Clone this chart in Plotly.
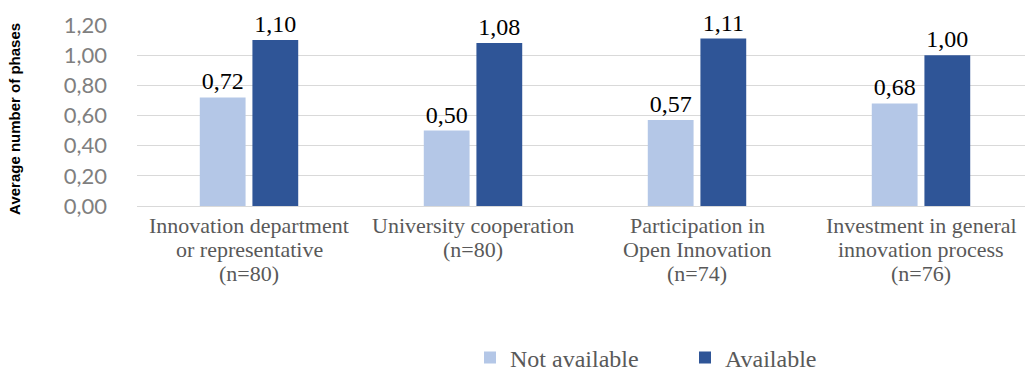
import plotly.graph_objects as go

categories = [
    "Innovation department<br>or representative<br>(n=80)",
    "University cooperation<br>(n=80)",
    "Participation in<br>Open Innovation<br>(n=74)",
    "Investment in general<br>innovation process<br>(n=76)",
]
not_available = [0.72, 0.50, 0.57, 0.68]
available = [1.10, 1.08, 1.11, 1.00]
y_ticks = [0.0, 0.2, 0.4, 0.6, 0.8, 1.0, 1.2]
y_tick_labels = ["0,00", "0,20", "0,40", "0,60", "0,80", "1,00", "1,20"]

LIGHT = "#b4c7e7"
DARK = "#2f5597"
SERIF = "Liberation Serif, Times New Roman, serif"
LABEL_GREY = "#595959"


def fmt(v):
    return f"{v:.2f}".replace(".", ",")


fig = go.Figure()
for name, values, color in [("Not available", not_available, LIGHT),
                            ("Available", available, DARK)]:
    fig.add_trace(go.Bar(
        name=name, x=categories, y=values,
        marker=dict(color=color, line=dict(width=0)),
        text=[fmt(v) for v in values], textposition="outside",
        textfont=dict(family=SERIF, size=24, color="#000000"),
        cliponaxis=False,
    ))

W, H = 1025, 381
ML, MR, MT, MB = 137, 0, 25, 169
plot_w = W - ML - MR
plot_h = H - MT - MB
CAT_PX = 224  # pixel width of one category slot


def py(pixel_y):
    """Paper y coordinate for a pixel row of the page."""
    return (MT + plot_h - pixel_y) / plot_h


def px(pixel_x):
    """Paper x coordinate for a pixel column of the page."""
    return (pixel_x - ML) / plot_w


# Category labels, one annotation per line for tight line spacing
annotations = []
for cat in categories:
    for i, line in enumerate(cat.split("<br>")):
        annotations.append(dict(
            text=line, x=cat, xref="x", y=py(232 + 25 * i), yref="paper",
            xanchor="center", yanchor="middle", showarrow=False,
            font=dict(family=SERIF, size=22, color=LABEL_GREY),
        ))

annotations.append(dict(
    text="<b>Average number of phases</b>",
    xref="paper", yref="paper", x=px(15), y=py(122),
    xanchor="center", yanchor="middle", textangle=-90, showarrow=False,
    font=dict(family="Liberation Sans, Arial, sans-serif", size=15, color="#000000"),
))

fig.update_layout(
    width=W, height=H,
    margin=dict(l=ML, r=MR, t=MT, b=MB, pad=0),
    paper_bgcolor="white", plot_bgcolor="white",
    font=dict(family=SERIF),
    barmode="group", bargap=0.53, bargroupgap=0.13,
    showlegend=True,
    legend=dict(
        orientation="h", x=px(470), xanchor="left",
        y=py(369), yanchor="middle",
        font=dict(family=SERIF, size=24, color=LABEL_GREY),
        itemwidth=30, entrywidth=170, bgcolor="rgba(0,0,0,0)",
    ),
    xaxis=dict(
        range=[-0.5, -0.5 + plot_w / CAT_PX],
        showgrid=False, showline=True, linecolor="#d9d9d9", linewidth=1,
        ticks="", showticklabels=False,
    ),
    yaxis=dict(
        range=[0, 1.2], tickvals=y_ticks, ticktext=y_tick_labels,
        showgrid=True, gridcolor="#d9d9d9", gridwidth=1,
        zeroline=False, showline=False, ticks="",
        ticklabelstandoff=29,
        tickfont=dict(family="Lato, sans-serif", size=22, color="#7f7f7f"),
    ),
    annotations=annotations,
)

fig.write_html("out.html")
